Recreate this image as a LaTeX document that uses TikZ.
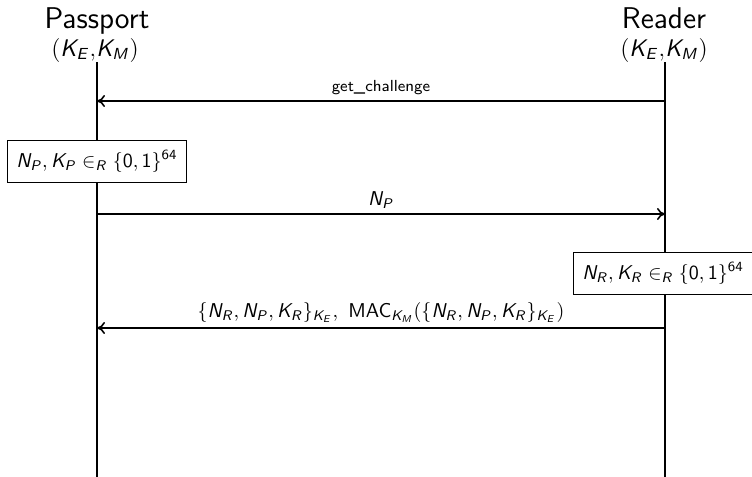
\documentclass[tikz,border=0pt]{standalone}
\renewcommand{\familydefault}{\sfdefault}
\DeclareMathAlphabet{\mathsfit}{OT1}{cmss}{m}{sl}
\SetMathAlphabet{\mathsf}{normal}{OT1}{cmss}{m}{n}
\newcommand{\sv}[1]{\mathsfit{#1}}
\newcommand{\ksub}[2]{\mathsfit{#1}_{\mathsfit{#2}}}
\newcommand{\bitstr}{\{\mathsf{0},\mathsf{1}\}^{\mathsf{64}}}
\usetikzlibrary{arrows.meta,positioning}
\tikzset{
  actor/.style={font=\fontsize{15}{18}\selectfont, inner sep=0pt, anchor=base},
  keys/.style={font=\large, inner sep=0pt, anchor=base},
  calc box/.style={rectangle, draw, fill=white, thick, minimum width=89.5pt, minimum height=21pt, inner sep=0pt},
  life/.style={thick},
  msg/.style={-{To[length=4pt,width=6pt]}, thick},
  lbl/.style={above, inner sep=2.5pt}
}

\begin{document}
\begin{tikzpicture}[x=0.5pt, y=0.5pt]
\useasboundingbox (0,0) rectangle (752,-477);
% the two parties
\node[actor] (pass) at (97,-28) {Passport};
\node[keys] (passk) at (95,-56) {$(\ksub{K}{E}{,}\ksub{K}{M})$};
\node[actor] (read) at (664,-28) {Reader};
\node[keys] (readk) at (664,-56) {$(\ksub{K}{E}{,}\ksub{K}{M})$};
\coordinate (passend) at (97,-477);
\coordinate (readend) at (665,-477);
\draw[life] (passk.south -| passend) -- (passend);
\draw[life] (readk.south -| readend) -- (readend);
% message heights
\coordinate (m1) at (0,-101);
\coordinate (m2) at (0,-214);
\coordinate (m3) at (0,-328);
\draw[msg] (readend |- m1) -- node[lbl, font=\footnotesize]{get\_challenge} (passend |- m1);
\node[calc box] (pnonce) at (97,-161.5) {$\ksub{N}{P}, \ksub{K}{P} \in_{\sv{R}} \bitstr$};
\draw[msg] (passend |- m2) -- node[lbl]{$\ksub{N}{P}$} (readend |- m2);
\node[calc box] (rnonce) at (663,-273.5) {$\ksub{N}{R}, \ksub{K}{R} \in_{\sv{R}} \bitstr$};
\draw[msg] (readend |- m3) -- node[lbl]{$\{\ksub{N}{R}, \ksub{N}{P}, \ksub{K}{R}\}_{\ksub{K}{E}},\ \mathsf{MAC}_{\ksub{K}{M}}(\{\ksub{N}{R}, \ksub{N}{P}, \ksub{K}{R}\}_{\ksub{K}{E}})$} (passend |- m3);
\end{tikzpicture}
\end{document}
